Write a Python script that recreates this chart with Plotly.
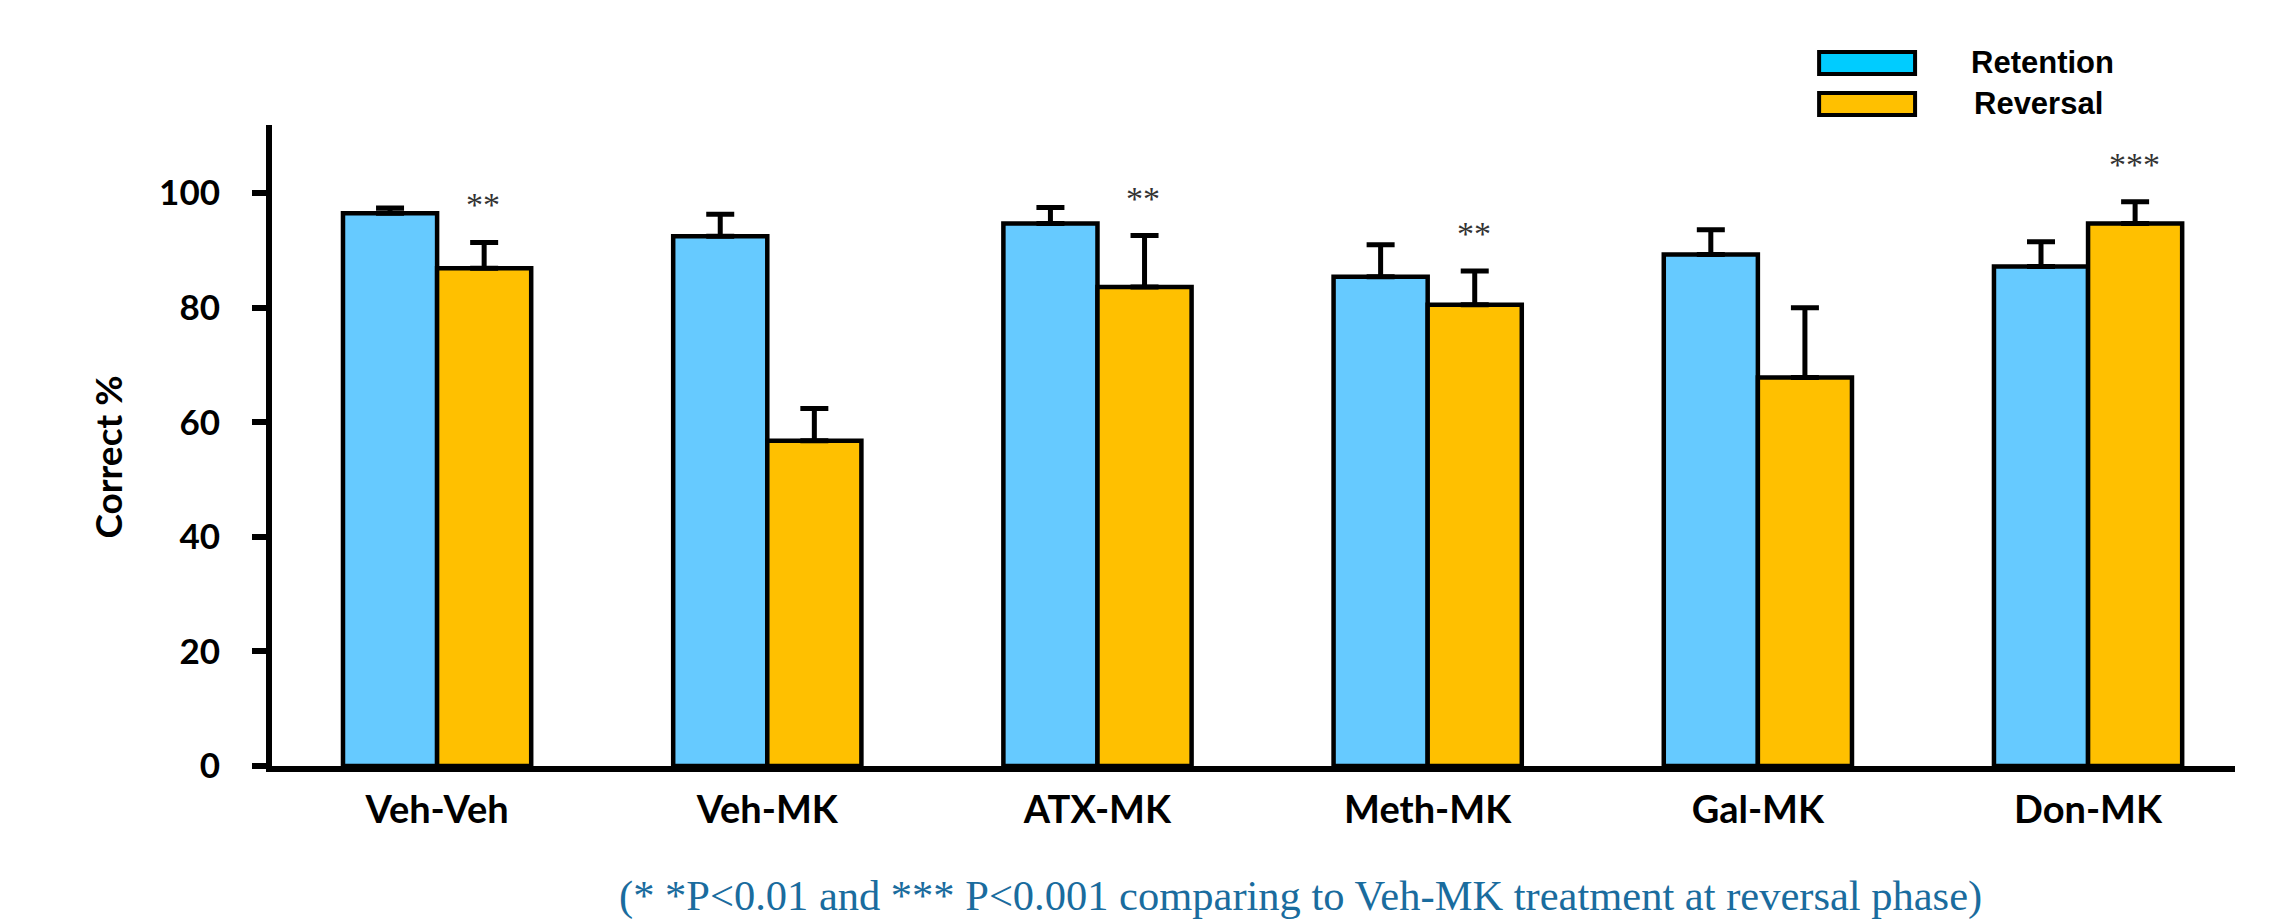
import plotly.graph_objects as go

# ---- data ----
categories = ["Veh-Veh", "Veh-MK", "ATX-MK", "Meth-MK", "Gal-MK", "Don-MK"]
retention = [96.5, 92.5, 94.7, 85.4, 89.3, 87.2]
retention_err = [0.9, 3.8, 2.8, 5.6, 4.3, 4.3]
reversal = [86.9, 56.8, 83.6, 80.5, 67.8, 94.7]
reversal_err = [4.5, 5.6, 9.0, 5.9, 12.2, 3.8]
significance = ["**", "", "**", "**", "", "***"]
y_ticks = [0, 20, 40, 60, 80, 100]
footnote = "(* *P&lt;0.01 and *** P&lt;0.001 comparing to Veh-MK treatment at reversal phase)"

# ---- layout geometry (screen pixels; page body has an 8px margin) ----
OFF = 8
W, H = 2278 - OFF, 923 - OFF
L, R, T, B = 271.5 - OFF, 2235 - OFF, 125 - OFF, 766 - OFF

def px_x(p):
    return (p - OFF - L) / (R - L)

def px_y(p):
    return (B - (p - OFF)) / (B - T)

BLUE = "#66CAFF"
ORANGE = "#FFC000"

fig = go.Figure()
fig.add_trace(go.Bar(
    x=categories, y=retention, name="Retention",
    marker=dict(color=BLUE, line=dict(color="black", width=4.5)),
    error_y=dict(type="data", array=retention_err, symmetric=False,
                 arrayminus=[0] * len(retention_err),
                 color="black", thickness=5, width=14),
))
fig.add_trace(go.Bar(
    x=categories, y=reversal, name="Reversal",
    marker=dict(color=ORANGE, line=dict(color="black", width=4.5)),
    error_y=dict(type="data", array=reversal_err, symmetric=False,
                 arrayminus=[0] * len(reversal_err),
                 color="black", thickness=5, width=14),
))

annotations = []
# significance markers above reversal bars
for i, (cat, v, e, s) in enumerate(zip(categories, reversal, reversal_err, significance)):
    if s:
        annotations.append(dict(
            x=cat, y=v + e, xref="x", yref="y", text=s, showarrow=False,
            xshift=46, yanchor="bottom", yshift=17,
            font=dict(family="Liberation Serif", size=34, color="#333333"),
        ))

# y-axis title
annotations.append(dict(
    x=px_x(106), y=px_y(457), xref="paper", yref="paper", text="Correct %",
    textangle=-90, showarrow=False, xanchor="center", yanchor="middle",
    font=dict(family="Lato", size=37, color="black", weight="bold"),
))

# footnote
annotations.append(dict(
    x=px_x(617), y=px_y(896), xref="paper", yref="paper", text=footnote,
    showarrow=False, xanchor="left", yanchor="middle",
    font=dict(family="Liberation Serif", size=42.5, color="#1A6C9E"),
))

# manual legend
legend_items = [("Retention", "#00CCFF", 52, 74, 1969, 63),
                ("Reversal", ORANGE, 93, 115, 1972, 103)]
shapes = []
for name, col, y0, y1, tx, ty in legend_items:
    shapes.append(dict(type="rect", xref="paper", yref="paper",
                       x0=px_x(1819), x1=px_x(1915), y0=px_y(y1), y1=px_y(y0),
                       fillcolor=col, line=dict(color="black", width=4)))
    annotations.append(dict(
        x=px_x(tx), y=px_y(ty), xref="paper", yref="paper", text=name,
        showarrow=False, xanchor="left", yanchor="middle",
        font=dict(family="Liberation Sans", size=31, color="black", weight="bold"),
    ))

fig.update_layout(
    width=W, height=H,
    margin=dict(l=L, r=W - R, t=T, b=H - B, pad=0),
    paper_bgcolor="white", plot_bgcolor="white",
    barmode="group", bargap=0.43, bargroupgap=0,
    showlegend=False,
    annotations=annotations, shapes=shapes,
    xaxis=dict(
        type="category", range=[-0.5, 5.445],
        showline=True, linecolor="black", linewidth=6,
        showgrid=False, zeroline=False, ticks="",
        tickfont=dict(family="Lato", size=38, color="black", weight="bold"),
        ticklabelstandoff=5,
    ),
    yaxis=dict(
        range=[0, 111.9], tickvals=y_ticks,
        showline=True, linecolor="black", linewidth=6,
        ticks="outside", ticklen=14, tickwidth=6, tickcolor="black",
        showgrid=False, zeroline=False,
        tickfont=dict(family="Lato", size=35, color="black", weight="bold"),
        ticklabelstandoff=25,
    ),
)

fig.write_html("out.html")
